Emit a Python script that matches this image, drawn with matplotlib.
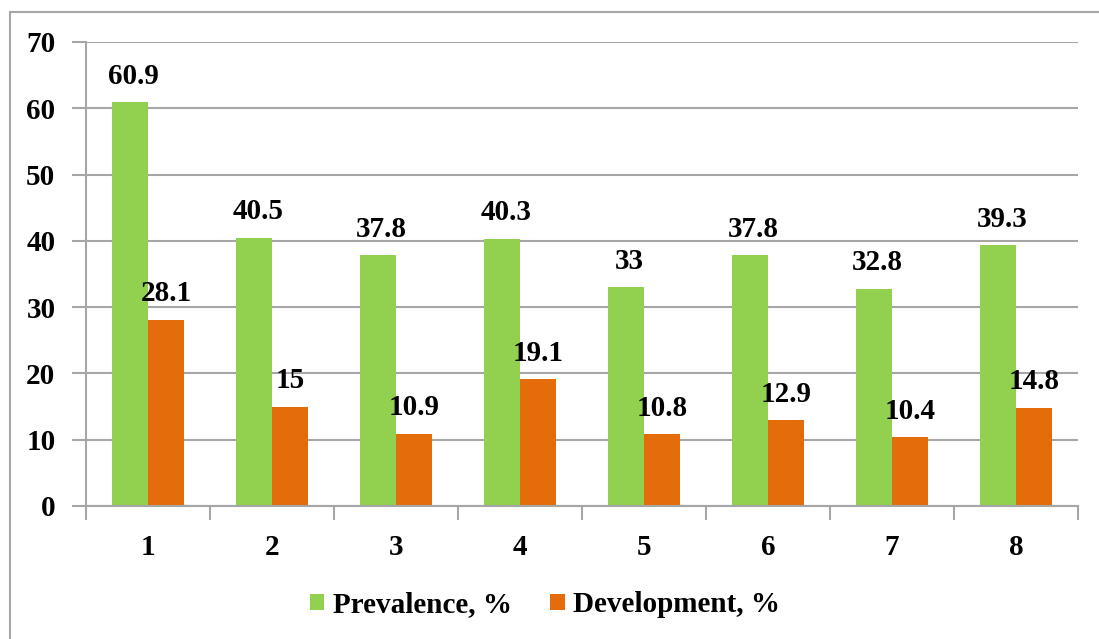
import numpy as np
import matplotlib
import matplotlib.pyplot as plt
from matplotlib.patches import Rectangle

matplotlib.use("Agg")

categories = ["1", "2", "3", "4", "5", "6", "7", "8"]
prevalence = [60.9, 40.5, 37.8, 40.3, 33, 37.8, 32.8, 39.3]
development = [28.1, 15, 10.9, 19.1, 10.8, 12.9, 10.4, 14.8]
prev_labels = ["60.9", "40.5", "37.8", "40.3", "33", "37.8", "32.8", "39.3"]
dev_labels = ["28.1", "15", "10.9", "19.1", "10.8", "12.9", "10.4", "14.8"]

GREEN = "#92D050"
ORANGE = "#E46C0A"
GRID = "#A6A6A6"

plt.rcParams["font.family"] = ["Liberation Serif", "DejaVu Serif"]
plt.rcParams["font.weight"] = "bold"

fig = plt.figure(figsize=(10.99, 6.39), dpi=100)
ax = fig.add_axes([86 / 1099, 1 - 506 / 639, (1078 - 86) / 1099, (506 - 42) / 639])

# outer chart border
fig.patches.append(Rectangle((10 / 1099, -0.05), 1.1, 1 - 12 / 639 + 0.05,
                             transform=fig.transFigure, fill=False,
                             edgecolor=GRID, linewidth=1.5))

x = np.arange(len(categories))
w = 0.29
ax.bar(x - w / 2, prevalence, w, color=GREEN, label="Prevalence, %", zorder=3)
ax.bar(x + w / 2, development, w, color=ORANGE, label="Development, %", zorder=3)

for xi, v, s in zip(x, prevalence, prev_labels):
    ax.annotate(s, (xi - w / 2 + 0.03, v), xytext=(0, 9), textcoords="offset points",
                ha="center", va="bottom", fontsize=21, fontweight="bold")
for xi, v, s in zip(x, development, dev_labels):
    ax.annotate(s, (xi + w / 2, v), xytext=(0, 9), textcoords="offset points",
                ha="center", va="bottom", fontsize=21, fontweight="bold")

ax.set_xlim(-0.5, len(categories) - 0.5)
ax.set_ylim(0, 70)
ax.set_yticks(np.arange(0, 71, 10))
ax.grid(axis="y", color=GRID, linewidth=1.5, zorder=0)
ax.set_xticks(x)
ax.set_xticklabels(categories)
ax.set_xticks(np.arange(-0.5, len(categories)), minor=True)
ax.tick_params(axis="x", which="major", length=0, pad=20, labelsize=21)
ax.tick_params(axis="x", which="minor", length=10, width=1.5, color=GRID)
ax.tick_params(axis="y", length=10, width=1.5, color=GRID, pad=12, labelsize=21)

for side in ["top", "right"]:
    ax.spines[side].set_visible(False)
for side in ["left", "bottom"]:
    ax.spines[side].set_color(GRID)
    ax.spines[side].set_linewidth(1.5)
    ax.spines[side].set_zorder(4)

fig.legend(loc="center", bbox_to_anchor=(545 / 1099, 1 - 605 / 639), ncol=2,
           frameon=False, fontsize=21, handlelength=0.5, handleheight=0.5,
           handletextpad=0.3, columnspacing=1.3)

plt.savefig("out.png", dpi=100)
plt.close()
